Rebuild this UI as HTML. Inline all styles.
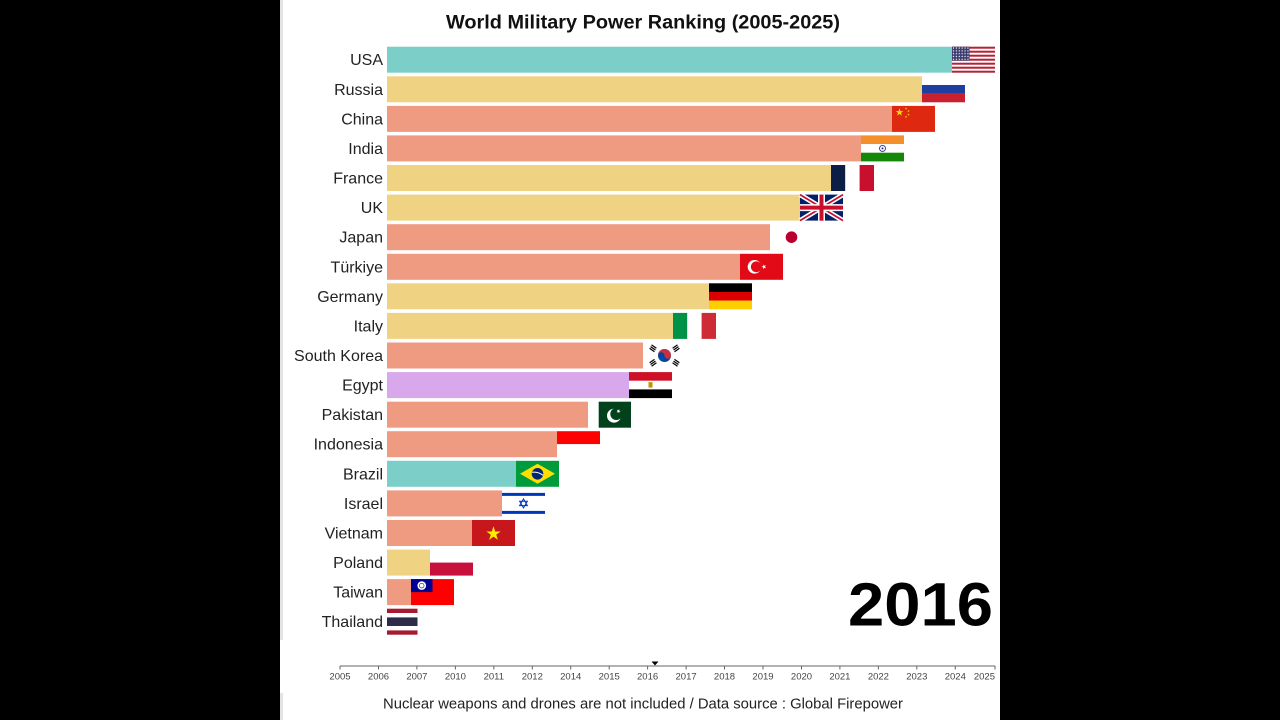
<!DOCTYPE html>
<html><head><meta charset="utf-8"><style>
html,body{margin:0;padding:0;background:#000;}
svg{display:block;}
text{font-family:"Liberation Sans",sans-serif;}
</style></head><body>
<svg width="1280" height="720" viewBox="0 0 1280 720" xmlns="http://www.w3.org/2000/svg">
<defs>
<path id="star" d="M0,-1 L0.2245,-0.309 L0.951,-0.309 L0.363,0.118 L0.588,0.809 L0,0.382 L-0.588,0.809 L-0.363,0.118 L-0.951,-0.309 L-0.2245,-0.309Z"/>
<pattern id="stars" width="2.9" height="2.8" patternUnits="userSpaceOnUse"><rect width="2.9" height="2.8" fill="#3c3b6e"/><circle cx="1.45" cy="1.4" r="0.65" fill="#fff"/></pattern>
</defs>
<rect width="1280" height="720" fill="#000"/>
<rect x="280" y="0" width="720" height="720" fill="#fff"/>
<rect x="280" y="0" width="3" height="640" fill="#e4e4e4"/>
<rect x="280" y="693" width="3" height="27" fill="#e4e4e4"/>

<text x="643" y="28.5" font-size="19" font-weight="bold" fill="#111" text-anchor="middle" textLength="394" lengthAdjust="spacingAndGlyphs">World Military Power Ranking (2005-2025)</text>

<!-- bars -->
<g>
<rect x="387" y="46.7" width="565" height="26" fill="#7ccfc8"/>
<rect x="387" y="76.3" width="535" height="26" fill="#f0d283"/>
<rect x="387" y="105.9" width="505" height="26" fill="#ee9b81"/>
<rect x="387" y="135.4" width="474" height="26" fill="#ee9b81"/>
<rect x="387" y="165.0" width="444" height="26" fill="#f0d283"/>
<rect x="387" y="194.6" width="413" height="26" fill="#f0d283"/>
<rect x="387" y="224.2" width="383" height="26" fill="#ee9b81"/>
<rect x="387" y="253.8" width="353" height="26" fill="#ee9b81"/>
<rect x="387" y="283.3" width="322" height="26" fill="#f0d283"/>
<rect x="387" y="312.9" width="286" height="26" fill="#f0d283"/>
<rect x="387" y="342.5" width="256" height="26" fill="#ee9b81"/>
<rect x="387" y="372.1" width="242" height="26" fill="#d9a8ec"/>
<rect x="387" y="401.7" width="201" height="26" fill="#ee9b81"/>
<rect x="387" y="431.2" width="170" height="26" fill="#ee9b81"/>
<rect x="387" y="460.8" width="129" height="26" fill="#7ccfc8"/>
<rect x="387" y="490.4" width="115" height="26" fill="#ee9b81"/>
<rect x="387" y="520.0" width="85" height="26" fill="#ee9b81"/>
<rect x="387" y="549.6" width="43" height="26" fill="#f0d283"/>
<rect x="387" y="579.1" width="24" height="26" fill="#ee9b81"/>
</g>

<!-- labels -->
<g font-size="16" fill="#222" text-anchor="end">
<text x="383" y="65.2">USA</text>
<text x="383" y="94.8">Russia</text>
<text x="383" y="124.4">China</text>
<text x="383" y="153.9">India</text>
<text x="383" y="183.5">France</text>
<text x="383" y="213.1">UK</text>
<text x="383" y="242.7">Japan</text>
<text x="383" y="272.3">Türkiye</text>
<text x="383" y="301.8">Germany</text>
<text x="383" y="331.4">Italy</text>
<text x="383" y="361.0">South Korea</text>
<text x="383" y="390.6">Egypt</text>
<text x="383" y="420.2">Pakistan</text>
<text x="383" y="449.7">Indonesia</text>
<text x="383" y="479.3">Brazil</text>
<text x="383" y="508.9">Israel</text>
<text x="383" y="538.5">Vietnam</text>
<text x="383" y="568.1">Poland</text>
<text x="383" y="597.6">Taiwan</text>
<text x="383" y="627.2">Thailand</text>
</g>

<!-- flags -->
<!-- USA -->
<g transform="translate(952,46.7)">
<rect width="43" height="26" fill="#fff"/>
<rect y="0" width="43" height="2" fill="#b22234"/><rect y="4" width="43" height="2" fill="#b22234"/><rect y="8" width="43" height="2" fill="#b22234"/><rect y="12" width="43" height="2" fill="#b22234"/><rect y="16" width="43" height="2" fill="#b22234"/><rect y="20" width="43" height="2" fill="#b22234"/><rect y="24" width="43" height="2" fill="#b22234"/>
<rect width="17.5" height="14" fill="url(#stars)"/>
</g>
<!-- Russia -->
<g transform="translate(922,76.3)">
<rect width="43" height="8.7" fill="#fff"/><rect y="8.7" width="43" height="8.7" fill="#1c3fa0"/><rect y="17.3" width="43" height="8.7" fill="#c8202e"/>
</g>
<!-- China -->
<g transform="translate(892,105.9)">
<rect width="43" height="26" fill="#de2910"/>
<use href="#star" transform="translate(7.5,6.5) scale(4)" fill="#ffde00"/>
<use href="#star" transform="translate(14,2.6) scale(1.3)" fill="#ffde00"/>
<use href="#star" transform="translate(16.5,5.2) scale(1.3)" fill="#ffde00"/>
<use href="#star" transform="translate(16.5,8.7) scale(1.3)" fill="#ffde00"/>
<use href="#star" transform="translate(14,11) scale(1.3)" fill="#ffde00"/>
</g>
<!-- India -->
<g transform="translate(861,135.4)">
<rect width="43" height="8.7" fill="#f58f2c"/><rect y="8.7" width="43" height="8.7" fill="#fff"/><rect y="17.3" width="43" height="8.7" fill="#138808"/>
<circle cx="21.5" cy="13" r="3" fill="none" stroke="#2a2f8a" stroke-width="0.9"/><circle cx="21.5" cy="13" r="1" fill="#2a2f8a"/>
</g>
<!-- France -->
<g transform="translate(831,165.0)">
<rect width="14.3" height="26" fill="#0d1e46"/><rect x="14.3" width="14.3" height="26" fill="#fff"/><rect x="28.6" width="14.4" height="26" fill="#c8102e"/>
</g>
<!-- UK -->
<g transform="translate(800,194.6)">
<rect width="43" height="26" fill="#012169"/>
<path d="M0,0 L43,26 M43,0 L0,26" stroke="#fff" stroke-width="5"/>
<path d="M0,0 L43,26 M43,0 L0,26" stroke="#c8102e" stroke-width="1.7"/>
<path d="M21.5,0 V26 M0,13 H43" stroke="#fff" stroke-width="7"/>
<path d="M21.5,0 V26 M0,13 H43" stroke="#c8102e" stroke-width="4"/>
</g>
<!-- Japan -->
<g transform="translate(770,224.2)">
<rect width="43" height="26" fill="#fff"/>
<circle cx="21.5" cy="13" r="5.8" fill="#bc002d"/>
</g>
<!-- Turkey -->
<g transform="translate(740,253.8)">
<rect width="43" height="26" fill="#e30a17"/>
<circle cx="14.5" cy="13" r="6.8" fill="#fff"/>
<circle cx="16.3" cy="13" r="5.4" fill="#e30a17"/>
<use href="#star" transform="translate(24,13) rotate(-18) scale(2.6)" fill="#fff"/>
</g>
<!-- Germany -->
<g transform="translate(709,283.3)">
<rect width="43" height="8.7" fill="#000"/><rect y="8.7" width="43" height="8.7" fill="#dd0000"/><rect y="17.3" width="43" height="8.7" fill="#ffce00"/>
</g>
<!-- Italy -->
<g transform="translate(673,312.9)">
<rect width="14.3" height="26" fill="#009246"/><rect x="14.3" width="14.3" height="26" fill="#fff"/><rect x="28.6" width="14.4" height="26" fill="#ce2b37"/>
</g>
<!-- South Korea -->
<g transform="translate(643,342.5)">
<rect width="43" height="26" fill="#fff"/>
<circle cx="21.5" cy="13" r="6.5" fill="#0047a0"/>
<path d="M15,13 A6.5,6.5 0 0 1 28,13 A3.25,3.25 0 0 1 21.5,13 A3.25,3.25 0 0 0 15,13Z" fill="#cd2e3a"/>
<g fill="#000">
<rect x="8" y="3.5" width="6" height="1.2" transform="rotate(35 11 4)"/><rect x="7" y="5.2" width="6" height="1.2" transform="rotate(35 10 5.8)"/><rect x="6" y="6.9" width="6" height="1.2" transform="rotate(35 9 7.5)"/>
<rect x="29" y="3.5" width="6" height="1.2" transform="rotate(-35 32 4)"/><rect x="30" y="5.2" width="6" height="1.2" transform="rotate(-35 33 5.8)"/><rect x="31" y="6.9" width="6" height="1.2" transform="rotate(-35 34 7.5)"/>
<rect x="6" y="18" width="6" height="1.2" transform="rotate(-35 9 18.5)"/><rect x="7" y="19.7" width="6" height="1.2" transform="rotate(-35 10 20.3)"/><rect x="8" y="21.4" width="6" height="1.2" transform="rotate(-35 11 22)"/>
<rect x="31" y="18" width="6" height="1.2" transform="rotate(35 34 18.5)"/><rect x="30" y="19.7" width="6" height="1.2" transform="rotate(35 33 20.3)"/><rect x="29" y="21.4" width="6" height="1.2" transform="rotate(35 32 22)"/>
</g>
</g>
<!-- Egypt -->
<g transform="translate(629,372.1)">
<rect width="43" height="8.7" fill="#ce1126"/><rect y="8.7" width="43" height="8.7" fill="#fff"/><rect y="17.3" width="43" height="8.7" fill="#000"/>
<rect x="19.5" y="10" width="4" height="5.5" fill="#c09300"/>
</g>
<!-- Pakistan -->
<g transform="translate(588,401.7)">
<rect width="10.7" height="26" fill="#fff"/><rect x="10.7" width="32.3" height="26" fill="#01411c"/>
<circle cx="26" cy="14" r="7" fill="#fff"/>
<circle cx="28.3" cy="12.3" r="6" fill="#01411c"/>
<use href="#star" transform="translate(30.5,9.5) rotate(20) scale(2.3)" fill="#fff"/>
</g>
<!-- Indonesia -->
<g transform="translate(557,431.2)">
<rect width="43" height="13" fill="#ff0000"/><rect y="13" width="43" height="13" fill="#fff"/>
</g>
<!-- Brazil -->
<g transform="translate(516,460.8)">
<rect width="43" height="26" fill="#009c3b"/>
<polygon points="4,13 21.5,3 39,13 21.5,23" fill="#ffdf00"/>
<circle cx="21.5" cy="13" r="5.8" fill="#002776"/>
<path d="M16,11.5 Q22,10.5 27,14.5" stroke="#fff" stroke-width="1" fill="none"/>
</g>
<!-- Israel -->
<g transform="translate(502,490.4)">
<rect width="43" height="26" fill="#fff"/>
<rect y="2.5" width="43" height="3" fill="#0038b8"/><rect y="20.5" width="43" height="3" fill="#0038b8"/>
<polygon points="21.5,8.5 25.4,15.2 17.6,15.2" fill="none" stroke="#0038b8" stroke-width="1"/>
<polygon points="21.5,17.5 25.4,10.8 17.6,10.8" fill="none" stroke="#0038b8" stroke-width="1"/>
</g>
<!-- Vietnam -->
<g transform="translate(472,520.0)">
<rect width="43" height="26" fill="#c8161d"/>
<use href="#star" transform="translate(21.5,13.8) scale(7.5)" fill="#ffee00"/>
</g>
<!-- Poland -->
<g transform="translate(430,549.6)">
<rect width="43" height="13" fill="#fff"/><rect y="13" width="43" height="13" fill="#c8103c"/>
</g>
<!-- Taiwan -->
<g transform="translate(411,579.1)">
<rect width="43" height="26" fill="#fe0000"/>
<rect width="21.5" height="13" fill="#000095"/>
<circle cx="10.75" cy="6.5" r="4.3" fill="#fff"/>
<circle cx="10.75" cy="6.5" r="2.6" fill="#000095"/>
<circle cx="10.75" cy="6.5" r="2" fill="#fff"/>
</g>
<!-- Thailand -->
<g transform="translate(387,608.7)">
<rect width="30.5" height="4.3" fill="#a51931"/><rect y="4.3" width="30.5" height="4.4" fill="#fff"/><rect y="8.7" width="30.5" height="8.6" fill="#2d2a4a"/><rect y="17.3" width="30.5" height="4.4" fill="#fff"/><rect y="21.7" width="30.5" height="4.3" fill="#a51931"/>
</g>

<!-- Year -->
<text x="993" y="625.7" font-size="61" font-weight="bold" fill="#000" text-anchor="end" textLength="145" lengthAdjust="spacingAndGlyphs">2016</text>

<!-- Axis -->
<line x1="340" y1="666" x2="995" y2="666" stroke="#666" stroke-width="1"/>
<g stroke="#666" stroke-width="1">
<line x1="340" y1="666" x2="340" y2="669.5"/><line x1="378.5" y1="666" x2="378.5" y2="669.5"/><line x1="416.9" y1="666" x2="416.9" y2="669.5"/><line x1="455.4" y1="666" x2="455.4" y2="669.5"/><line x1="493.8" y1="666" x2="493.8" y2="669.5"/><line x1="532.3" y1="666" x2="532.3" y2="669.5"/><line x1="570.7" y1="666" x2="570.7" y2="669.5"/><line x1="609.2" y1="666" x2="609.2" y2="669.5"/><line x1="647.6" y1="666" x2="647.6" y2="669.5"/><line x1="686.1" y1="666" x2="686.1" y2="669.5"/><line x1="724.5" y1="666" x2="724.5" y2="669.5"/><line x1="763" y1="666" x2="763" y2="669.5"/><line x1="801.5" y1="666" x2="801.5" y2="669.5"/><line x1="839.9" y1="666" x2="839.9" y2="669.5"/><line x1="878.4" y1="666" x2="878.4" y2="669.5"/><line x1="916.8" y1="666" x2="916.8" y2="669.5"/><line x1="955.3" y1="666" x2="955.3" y2="669.5"/><line x1="995" y1="666" x2="995" y2="669.5"/>
</g>
<g font-size="9.5" fill="#444" text-anchor="middle">
<text x="340" y="679.5">2005</text><text x="378.5" y="679.5">2006</text><text x="416.9" y="679.5">2007</text><text x="455.4" y="679.5">2010</text><text x="493.8" y="679.5">2011</text><text x="532.3" y="679.5">2012</text><text x="570.7" y="679.5">2014</text><text x="609.2" y="679.5">2015</text><text x="647.6" y="679.5">2016</text><text x="686.1" y="679.5">2017</text><text x="724.5" y="679.5">2018</text><text x="763" y="679.5">2019</text><text x="801.5" y="679.5">2020</text><text x="839.9" y="679.5">2021</text><text x="878.4" y="679.5">2022</text><text x="916.8" y="679.5">2023</text><text x="955.3" y="679.5">2024</text><text x="995" y="679.5" text-anchor="end">2025</text>
</g>
<polygon points="651.5,661.5 658.5,661.5 655,665.5" fill="#000"/>

<!-- Footer -->
<text x="643" y="708.3" font-size="15" fill="#222" text-anchor="middle" textLength="520" lengthAdjust="spacingAndGlyphs">Nuclear weapons and drones are not included / Data source : Global Firepower</text>
</svg>
</body></html>
